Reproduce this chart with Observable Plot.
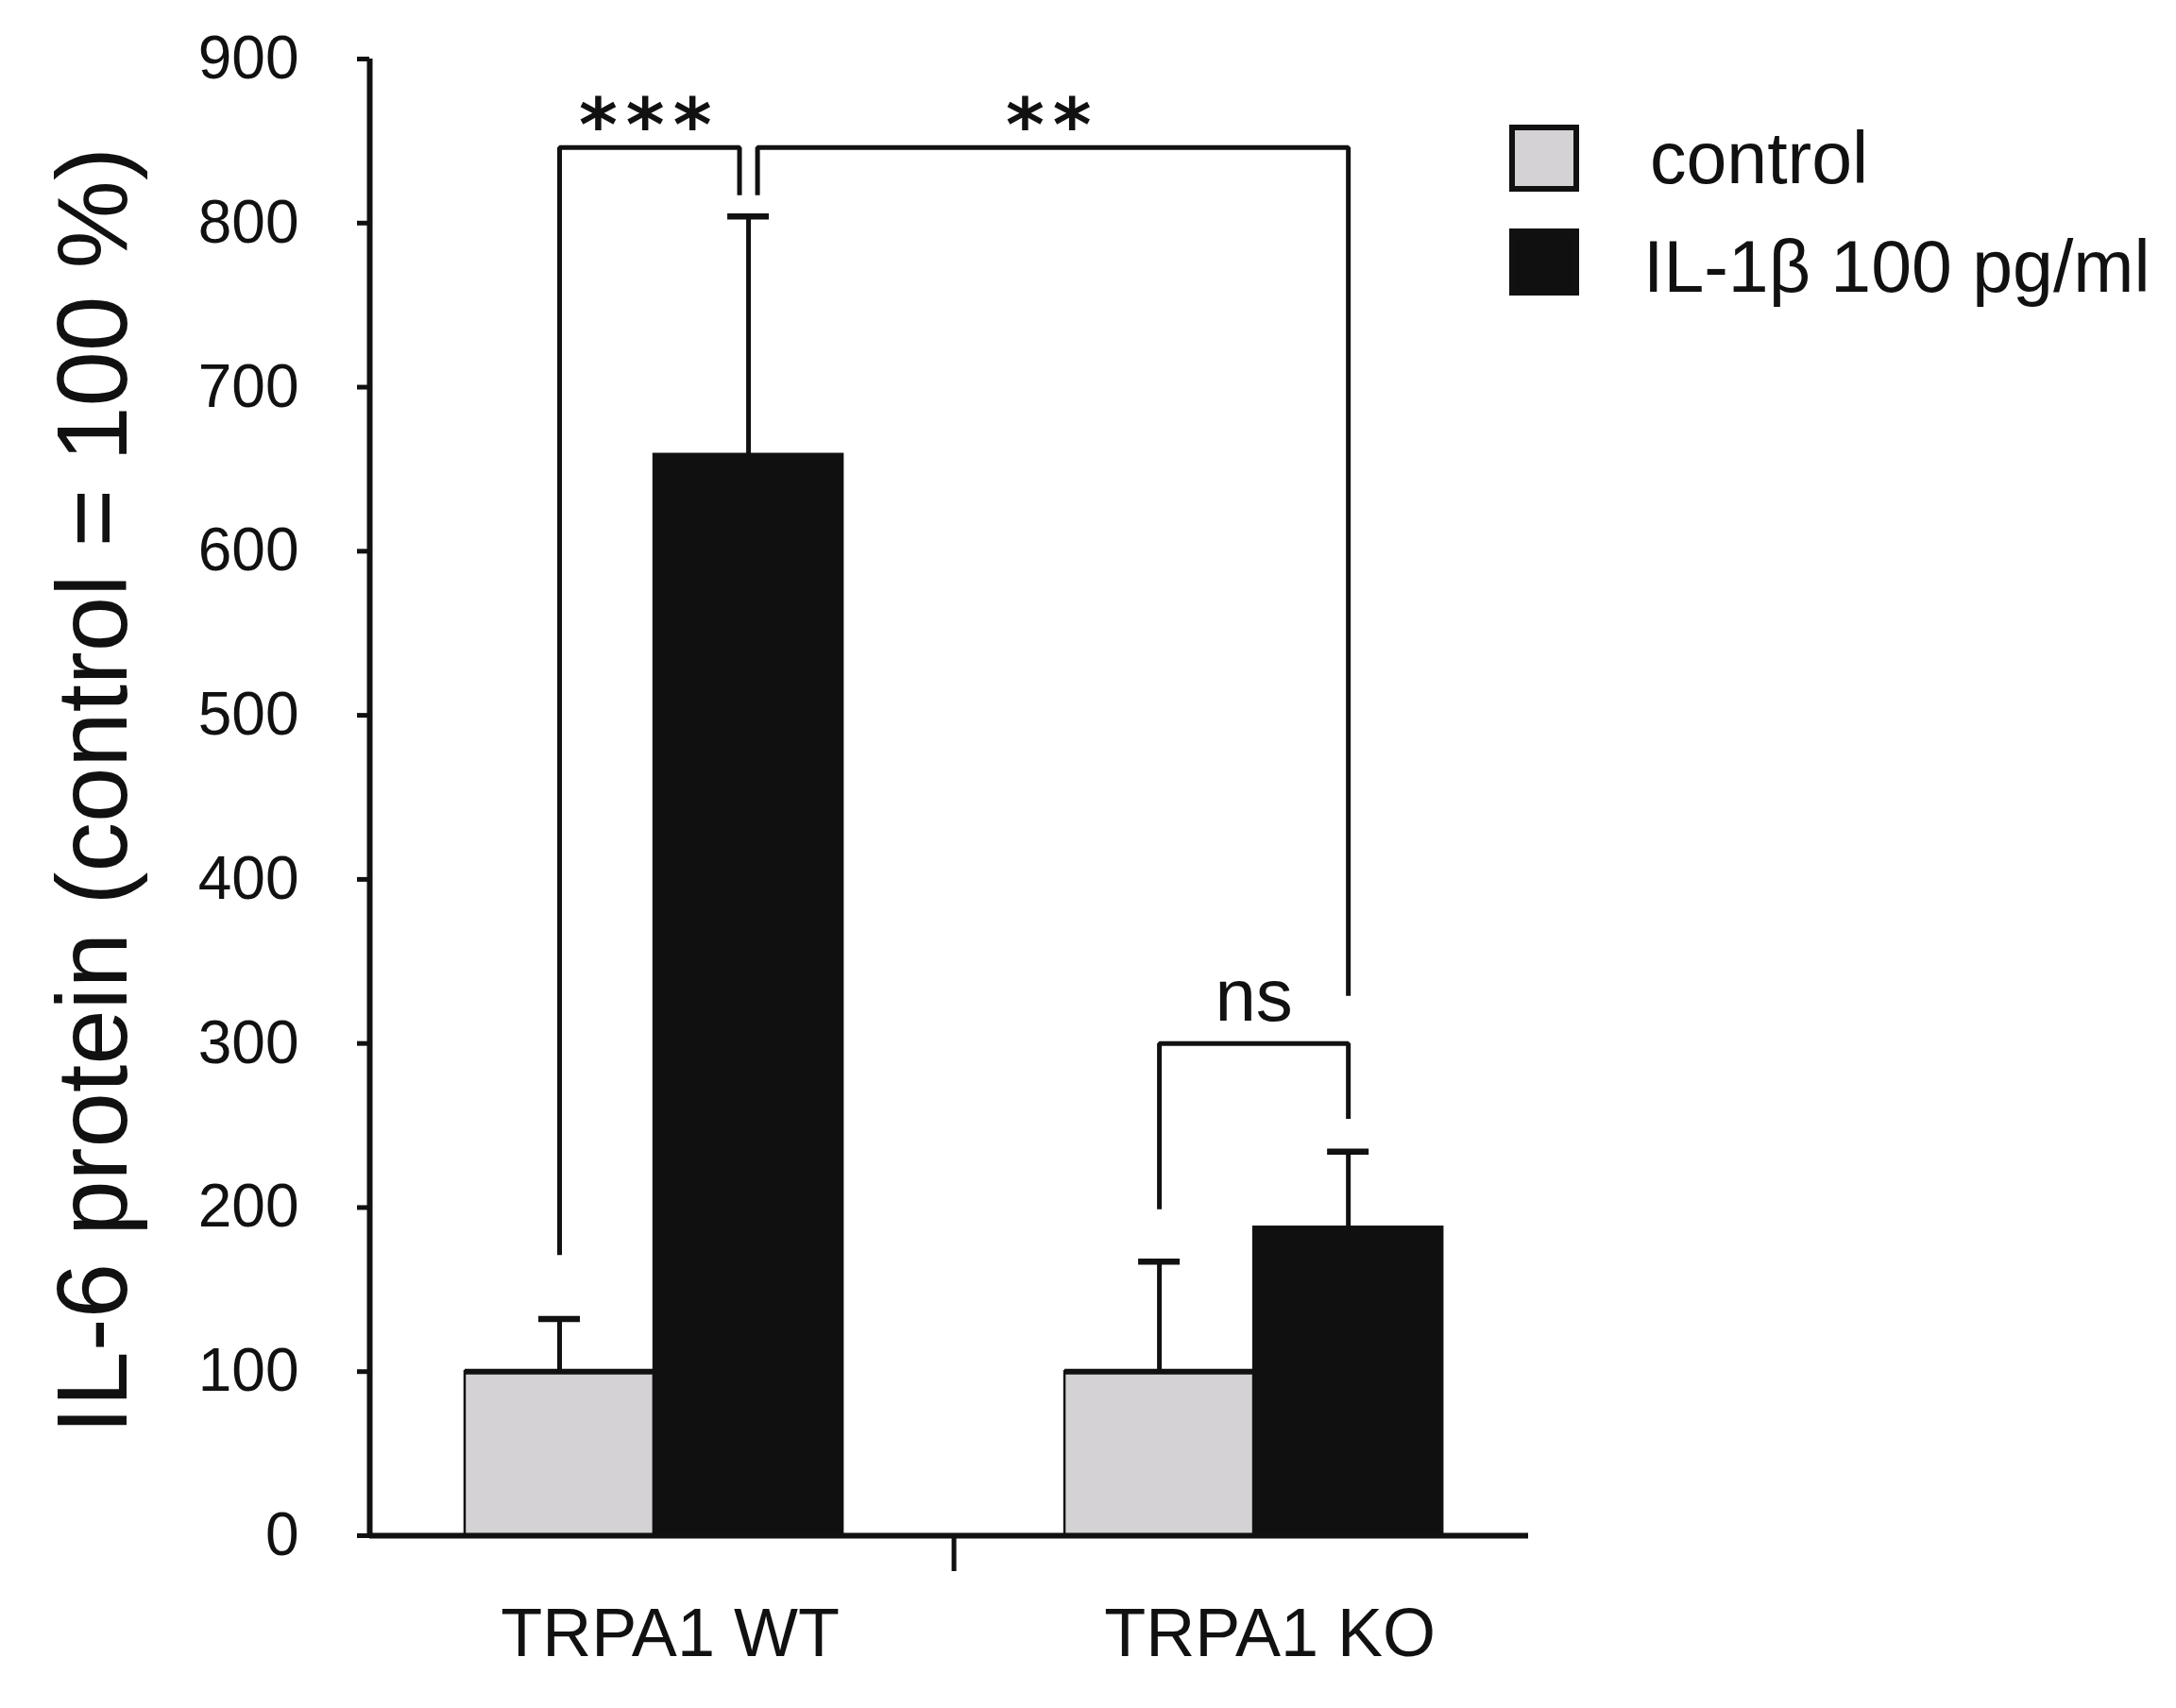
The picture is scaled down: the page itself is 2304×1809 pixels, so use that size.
<!DOCTYPE html>
<html>
<head>
<meta charset="utf-8">
<script src="https://cdn.jsdelivr.net/npm/d3@7"></script>
<script src="https://cdn.jsdelivr.net/npm/@observablehq/plot@0.6"></script>
<style>
  html, body { margin: 0; padding: 0; background: #fff; }
  #wrap { position: relative; width: 2304px; height: 1809px; font-family: "Liberation Sans", Arial, sans-serif; color: #111; }
  #wrap svg { position: absolute; left: 0; top: 0; }
  .lg-box { position: absolute; box-sizing: border-box; }
  .lg-text { position: absolute; font-size: 77px; line-height: 1; white-space: nowrap; color: #111; }
</style>
</head>
<body>
<div id="wrap"></div>
<script>
// ---- data ----
const groups = ["TRPA1 WT", "TRPA1 KO"];
const seriesNames = ["control", "IL-1β 100 pg/ml"];
const seriesColors = ["#d4d2d4", "#111011"];
const controlMean = [100, 100];
const controlErr = [32, 67];
const il1bMean = [659, 188];
const il1bErr = [145, 46];
const yTicks = [0, 100, 200, 300, 400, 500, 600, 700, 800, 900];
const yLabel = "IL-6 protein (control = 100 %)";

// significance brackets: [group, series] of each end
const sigLabels = ["***", "**", "ns"];
const sigFrom = [[0, 0], [0, 1], [1, 0]];
const sigTo = [[0, 1], [1, 1], [1, 1]];
const sigTop = [846, 846, 300];
const sigFromEnd = [171, 817, 199];
const sigToEnd = [817, 329, 254];

// ---- layout helpers ----
const barW = 0.315;            // bar width in x units (group spacing = 1)
const legGap = 0.015;          // separation between adjacent bracket legs
const barCenter = (g, s) => (g + 1) + (s === 0 ? -barW / 2 : barW / 2);

const means = [controlMean, il1bMean];
const errs = [controlErr, il1bErr];
const bars = [];
groups.forEach((g, gi) => seriesNames.forEach((s, si) => {
  const c = barCenter(gi, si);
  bars.push({group: g, series: s, si, x1: c - barW / 2, x2: c + barW / 2, xc: c,
             mean: means[si][gi], top: means[si][gi] + errs[si][gi]});
}));

const key = (p) => p.join(",");
const bracketPts = [];
const bracketLabels = [];
sigLabels.forEach((lab, i) => {
  let xf = barCenter(...sigFrom[i]);
  let xt = barCenter(...sigTo[i]);
  const fromShared = sigTo.some((p, j) => j !== i && key(p) === key(sigFrom[i]));
  const toShared = sigFrom.some((p, j) => j !== i && key(p) === key(sigTo[i]));
  if (fromShared) xf += legGap;
  if (toShared) xt -= legGap;
  bracketPts.push({id: i, x: xf, y: sigFromEnd[i]}, {id: i, x: xf, y: sigTop[i]},
                  {id: i, x: xt, y: sigTop[i]}, {id: i, x: xt, y: sigToEnd[i]});
  bracketLabels.push({label: lab, x: (xf + xt) / 2, y: sigTop[i], star: lab.includes("*")});
});

const xDomain = [0.526, 2.458];

const chart = Plot.plot({
  width: 2304,
  height: 1809,
  marginLeft: 391,
  marginRight: 686,
  marginTop: 62,
  marginBottom: 183,
  style: {background: "transparent", color: "#111", fontFamily: "'Liberation Sans', Arial, sans-serif"},
  x: {domain: xDomain, axis: null},
  y: {domain: [0, 900], axis: null},
  marks: [
    Plot.rectY(bars, {x1: "x1", x2: "x2", y1: 0, y2: "mean",
      fill: (d) => seriesColors[d.si], stroke: "#111", strokeWidth: 2.5}),
    // thick top edge on control bars
    Plot.ruleY(bars.filter(d => d.si === 0), {x1: "x1", x2: "x2", y: "mean", stroke: "#111", strokeWidth: 6}),
    // error bars (upper)
    Plot.ruleX(bars, {x: "xc", y1: "mean", y2: "top", stroke: "#111", strokeWidth: 5}),
    Plot.ruleY(bars, {x1: "xc", x2: "xc", y: "top", insetLeft: -22, insetRight: -22, stroke: "#111", strokeWidth: 6.5}),
    // axes
    Plot.ruleX([xDomain[0]], {y1: 0, y2: 900, stroke: "#111", strokeWidth: 6}),
    Plot.ruleY([0], {stroke: "#111", strokeWidth: 6}),
    Plot.axisY(yTicks, {anchor: "left", tickSize: 13, tickPadding: 62, fontSize: 64, strokeWidth: 5, label: null}),
    Plot.axisX([1.5], {anchor: "bottom", tickSize: 38, tickPadding: 0, tickFormat: () => "", strokeWidth: 5, label: null}),
    // group labels
    Plot.text(groups, {x: (d, i) => i + 1, y: 0, text: (d) => d, dx: 17, dy: 104, fontSize: 72, lineAnchor: "middle", fill: "#111"}),
    // y label
    Plot.text([yLabel], {frameAnchor: "left", text: (d) => d, rotate: -90, textAnchor: "middle", lineAnchor: "middle",
      dx: -291, dy: -7, fontSize: 105, fill: "#111"}),
    // significance brackets
    Plot.line(bracketPts, {x: "x", y: "y", z: "id", stroke: "#111", strokeWidth: 5, strokeLinejoin: "miter", strokeLinecap: "butt"}),
    Plot.text(bracketLabels.filter(d => d.star), {x: "x", y: "y", text: "label", lineAnchor: "bottom", dy: 4,
      fontSize: 78, fontWeight: "bold", fontFamily: "'DejaVu Sans', sans-serif", fill: "#111", className: "stars"}),
    Plot.text(bracketLabels.filter(d => !d.star), {x: "x", y: "y", text: "label", lineAnchor: "bottom", dy: -24,
      fontSize: 78, fill: "#111"})
  ]
});

const wrap = document.getElementById("wrap");
wrap.appendChild(chart);
d3.select(chart).selectAll("g.stars text").attr("letter-spacing", "9px");

// legend (HTML, outside the SVG)
const legendTop = [132, 242];
const legendH = [71, 71];
const textTop = [129, 244];
const textLeft = [1747, 1740];
seriesNames.forEach((name, i) => {
  const box = document.createElement("div");
  box.className = "lg-box";
  box.style.left = "1598px";
  box.style.top = legendTop[i] + "px";
  box.style.width = "74px";
  box.style.height = legendH[i] + "px";
  box.style.background = seriesColors[i];
  box.style.border = "6px solid #111";
  wrap.appendChild(box);
  const t = document.createElement("div");
  t.className = "lg-text";
  t.style.left = textLeft[i] + "px";
  t.style.top = textTop[i] + "px";
  t.textContent = name;
  wrap.appendChild(t);
});
</script>
</body>
</html>
